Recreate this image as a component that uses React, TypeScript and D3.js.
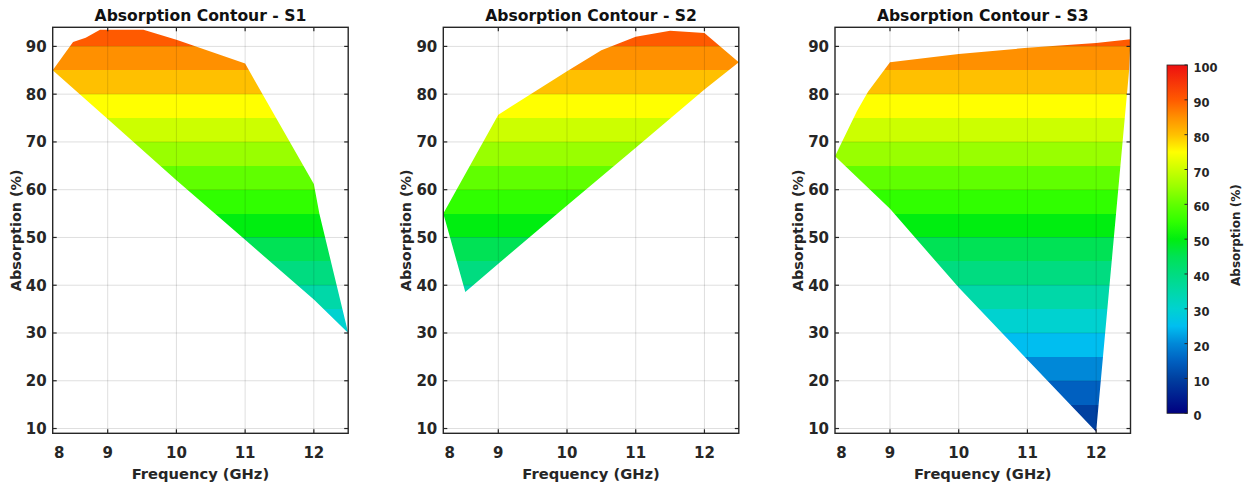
import React from 'react';
import * as d3 from 'd3';

// ---------- data ----------
const panelTitles = ['Absorption Contour - S1', 'Absorption Contour - S2', 'Absorption Contour - S3'];
const xTicks = [8, 9, 10, 11, 12];
const yTicks = [10, 20, 30, 40, 50, 60, 70, 80, 90];
const bandLevels = [0, 5, 10, 15, 20, 25, 30, 35, 40, 45, 50, 55, 60, 65, 70, 75, 80, 85, 90, 95];
const cbTicks = [0, 10, 20, 30, 40, 50, 60, 70, 80, 90, 100];

// colormap stops (value -> colour)
const colorStops = [0, 10, 15, 20, 25, 30, 35, 40, 45, 50, 55, 60, 65, 70, 75, 80, 85, 90, 100];
const colorValues = [
  '#000080', '#0040a0', '#0060c0', '#0088d8', '#00bef0', '#00d2d0', '#00d8a8', '#00dc80',
  '#00e255', '#00ee10', '#30ff00', '#60ff00', '#99ff00', '#ccff00', '#ffff00', '#ffc000',
  '#ff9000', '#ff5a00', '#ee1010',
];

// boundary outlines (frequency GHz, absorption %), traversed around each region
const s1Freq = [8, 8.37, 8.6, 8.86, 9.52, 10, 11, 12, 12.08, 12.5, 12, 11, 10, 9];
const s1Abs = [85, 90.9, 91.8, 93.5, 93.5, 91.4, 86.4, 61.2, 55, 30, 37, 49.5, 62, 74.8];

const s2Freq = [8, 9, 10, 10.5, 11, 11.5, 12, 12.5, 12, 11, 10, 9, 8.4];
const s2Abs = [55, 75.7, 84.8, 89.2, 92, 93.3, 92.8, 86.7, 81, 68.8, 56.7, 44.5, 38.6];

const s3Freq = [8, 8.4, 8.6, 9, 10, 11, 12, 12.5, 12.48, 12, 11, 10, 9];
const s3Abs = [67, 76.5, 80.5, 86.7, 88.4, 89.7, 90.7, 91.5, 85, 9.3, 24.4, 39.5, 56];

const series = [
  { freq: s1Freq, abs: s1Abs },
  { freq: s2Freq, abs: s2Abs },
  { freq: s3Freq, abs: s3Abs },
];

// ---------- layout ----------
const W = 1247;
const H = 492;
const panelLefts = [52.7, 443.3, 835];
const panelW = 295.5;
const firstGap = 55; // pixel distance between x=8 edge and x=9 gridline
const plotTop = 27.3;
const plotBottom = 433.3;
const textColor = '#262626';
const font = 'DejaVu Sans';

const cb = { x: 1167, w: 20.5, top: 65, bottom: 413.3 };

export default function App() {
  const cmap = d3
    .scaleLinear<string>()
    .domain(colorStops)
    .range(colorValues)
    .interpolate(d3.interpolateRgb)
    .clamp(true);

  const y = d3.scaleLinear().domain([9, 94]).range([plotBottom, plotTop]);
  const cbScale = d3.scaleLinear().domain([0, 100]).range([cb.bottom, cb.top]);
  const xFor = (i: number) =>
    d3
      .scaleLinear()
      .domain([8, 9, 12.5])
      .range([panelLefts[i], panelLefts[i] + firstGap, panelLefts[i] + panelW]);

  return (
    <svg
      width={W}
      height={H}
      style={{ position: 'absolute', left: 0, top: 0, background: '#fff' }}
      fontFamily={font}
      fontWeight="bold"
    >
      <defs>
        {series.map((s, i) => {
          const x = xFor(i);
          const pts = s.freq.map((f, k) => [x(f), y(s.abs[k])] as [number, number]);
          const d = d3.line()(pts) + 'Z';
          return (
            <clipPath id={`region${i}`} key={i}>
              <path d={d} />
            </clipPath>
          );
        })}
        <linearGradient id="cbgrad" x1="0" y1="1" x2="0" y2="0">
          {colorStops.map((v, k) => (
            <stop key={k} offset={`${v}%`} stopColor={colorValues[k]} />
          ))}
        </linearGradient>
      </defs>

      {series.map((s, i) => {
        const left = panelLefts[i];
        const right = left + panelW;
        const x = xFor(i);
        const cx = (left + right) / 2;
        return (
          <g key={i}>
            {/* filled bands */}
            <g clipPath={`url(#region${i})`}>
              {bandLevels.map((L) => {
                const y0 = Math.round(y(Math.min(L + 5, 94)));
                const y1 = Math.round(y(Math.max(L, 9)));
                if (y1 <= y0) return null;
                return (
                  <rect
                    key={L}
                    x={left}
                    y={y0}
                    width={panelW}
                    height={y1 - y0}
                    fill={cmap(L)}
                    shapeRendering="crispEdges"
                  />
                );
              })}
            </g>
            {/* grid */}
            {xTicks
              .filter((t) => t > 8)
              .map((t) => (
                <line
                  key={'gx' + t}
                  x1={x(t)}
                  x2={x(t)}
                  y1={plotTop}
                  y2={plotBottom}
                  stroke="#000"
                  strokeOpacity={0.13}
                  strokeWidth={1}
                />
              ))}
            {yTicks.map((t) => (
              <line
                key={'gy' + t}
                x1={left}
                x2={right}
                y1={y(t)}
                y2={y(t)}
                stroke="#000"
                strokeOpacity={0.13}
                strokeWidth={1}
              />
            ))}
            {/* ticks */}
            {xTicks
              .filter((t) => t > 8)
              .map((t) => (
                <g key={'tx' + t} stroke={textColor} strokeWidth={1.2}>
                  <line x1={x(t)} x2={x(t)} y1={plotBottom} y2={plotBottom - 4} />
                  <line x1={x(t)} x2={x(t)} y1={plotTop} y2={plotTop + 4} />
                </g>
              ))}
            {yTicks.map((t) => (
              <g key={'ty' + t} stroke={textColor} strokeWidth={1.2}>
                <line x1={left} x2={left + 4} y1={y(t)} y2={y(t)} />
                <line x1={right} x2={right - 4} y1={y(t)} y2={y(t)} />
              </g>
            ))}
            {/* frame */}
            <rect
              x={left}
              y={plotTop}
              width={panelW}
              height={plotBottom - plotTop}
              fill="none"
              stroke={textColor}
              strokeWidth={1.4}
            />
            {/* tick labels */}
            {xTicks.map((t) => (
              <text
                key={'lx' + t}
                x={t === 8 ? x(t) + 6.5 : x(t)}
                y={457.5}
                textAnchor="middle"
                fontSize={15}
                fill={textColor}
              >
                {t}
              </text>
            ))}
            {yTicks.map((t) => (
              <text
                key={'ly' + t}
                x={left - 6}
                y={y(t)}
                dy="0.36em"
                textAnchor="end"
                fontSize={15}
                fill={textColor}
              >
                {t}
              </text>
            ))}
            {/* titles */}
            <text x={cx} y={20.5} textAnchor="middle" fontSize={15.6} fill="#111">
              {panelTitles[i]}
            </text>
            <text x={cx} y={478.5} textAnchor="middle" fontSize={14.7} fill={textColor}>
              Frequency (GHz)
            </text>
            <text
              transform={`translate(${left - 37},${(plotTop + plotBottom) / 2}) rotate(-90)`}
              textAnchor="middle"
              dy="0.36em"
              fontSize={14.4}
              fill={textColor}
            >
              Absorption (%)
            </text>
          </g>
        );
      })}

      {/* colorbar */}
      <rect
        x={cb.x}
        y={cb.top}
        width={cb.w}
        height={cb.bottom - cb.top}
        fill="url(#cbgrad)"
        stroke={textColor}
        strokeWidth={0.8}
      />
      {cbTicks.map((t) => (
        <g key={'cb' + t}>
          <line
            x1={cb.x + cb.w}
            x2={cb.x + cb.w - 3}
            y1={cbScale(t)}
            y2={cbScale(t)}
            stroke={textColor}
            strokeWidth={1}
          />
          <text x={cb.x + cb.w + 6} y={cbScale(t) + 3} dy="0.36em" fontSize={11.5} fill={textColor}>
            {t}
          </text>
        </g>
      ))}
      <text
        transform={`translate(1236,${(cb.top + cb.bottom) / 2 - 4}) rotate(-90)`}
        textAnchor="middle"
        dy="0.36em"
        fontSize={12}
        fill={textColor}
      >
        Absorption (%)
      </text>
    </svg>
  );
}
